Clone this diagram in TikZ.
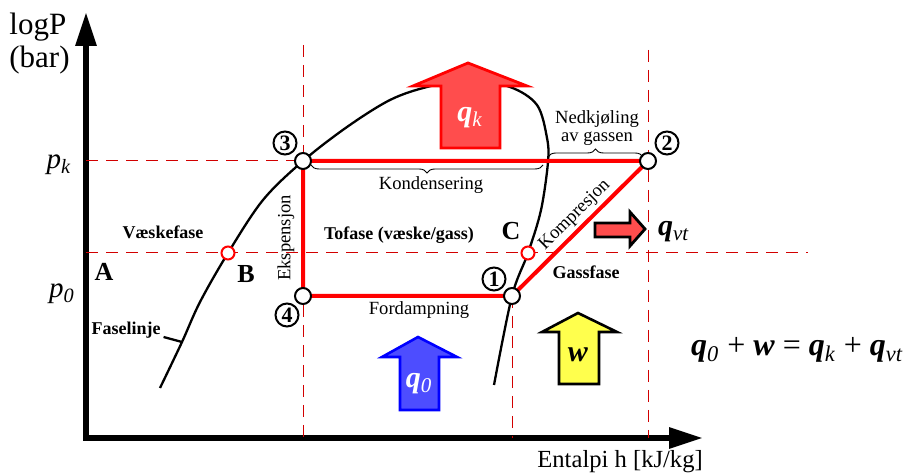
\documentclass[tikz,border=0pt]{standalone}
\usepackage{fontspec}
\setmainfont{Liberation Serif}
\usetikzlibrary{arrows.meta, positioning, decorations.pathreplacing}
\definecolor{heatred}{RGB}{255,77,77}
\definecolor{coldblue}{RGB}{77,77,255}
\definecolor{workyellow}{RGB}{255,255,77}
\definecolor{guidered}{RGB}{210,0,0}
\tikzstyle{statept} = [circle, draw=black, fill=white, line width=1pt, minimum size=8pt, inner sep=0pt]
\tikzstyle{phasept} = [circle, draw=red, fill=white, line width=1pt, minimum size=6.5pt, inner sep=0pt]
\tikzstyle{num} = [circle, draw=black, line width=1pt, minimum size=11.5pt, inner sep=0pt, font=\fontsize{11}{11}\selectfont\bfseries]
\tikzstyle{loopline} = [red, line width=2pt]
\tikzstyle{guide} = [guidered, line width=0.5pt, dash pattern=on 6pt off 4pt]
\tikzstyle{axisline} = [line width=3pt, -{Triangle[length=17pt, width=10pt]}]
\tikzstyle{dome} = [line width=1.15pt]
\tikzstyle{lbl} = [font=\fontsize{9.3}{8.6}\selectfont]
\tikzstyle{phase} = [font=\fontsize{9}{10}\selectfont\bfseries]
\tikzstyle{region} = [font=\fontsize{13}{14}\selectfont\bfseries]
\tikzstyle{sym} = [font=\fontsize{15}{16}\selectfont]
\tikzstyle{curly} = [decorate, decoration={brace, amplitude=4pt}, line width=0.45pt]
\tikzstyle{heat} = [fill=heatred, draw=red, line width=1.4pt]
\newcommand{\qq}[1]{{\bfseries\itshape q}\textsubscript{\itshape #1}}

\begin{document}
\begin{tikzpicture}[x=0.5pt, y=-0.5pt, line join=miter]
    \useasboundingbox (0,0) rectangle (903,474);

    % Axes
    \coordinate (o) at (86,438);
    \coordinate (ytip) at (86,12);
    \coordinate (xtip) at (703,438);
    \draw [axisline] (86,441) -- (ytip);
    \draw [axisline] (83,438) -- (xtip);
    \node (logp) [anchor=base west, inner sep=0pt, font=\fontsize{15.5}{17}\selectfont] at (9,35) {logP};
    \node (bar) [below=2pt of logp.south west, anchor=north west, inner sep=0pt, font=\fontsize{15.5}{17}\selectfont] {(bar)};
    \node (hlabel) [anchor=base west, inner sep=0pt, font=\fontsize{12.3}{13}\selectfont] at (537,468) {Entalpi h [kJ/kg]};
    \node (pk) [sym, anchor=base, font=\fontsize{14.5}{15}\selectfont] at (59,169) {\textit{p}\textsubscript{\textit{k}}};
    \node (p0) [sym, anchor=base, font=\fontsize{14.5}{15}\selectfont] at (62,298) {\textit{p}\textsubscript{\textit{0}}};

    % Cycle corners
    \coordinate (c1) at (512,296);
    \coordinate (c2) at (648,161);
    \coordinate (c3) at (303,161);
    \coordinate (c4) at (303,296);
    \coordinate (cb) at (228,253);
    \coordinate (cc) at (528,253);

    % Guide lines
    \draw [guide] (o |- c3) -- (c3);
    \draw [guide] (o |- cb) -- (808,253);
    \draw [guide] (303,45) -- (o -| c3);
    \draw [guide] (c1) -- (o -| c1);
    \draw [guide] (648,50) -- (o -| c2);

    % Saturation curve
    \draw [dome] plot [smooth, tension=0.55] coordinates {(160,388) (182,342) (200,302) (228,253) (263,200) (303,161) (347,127) (390,100) (427,87) (468,80) (510,87) (537,105) (547,138) (548,162) (541,210) (528,253) (512,296) (494,385)};

    % Cycle
    \draw [loopline] (c3) -- (c2) -- (c1) -- (c4) -- cycle;
    \path (c1) -- (c2) node [lbl, pos=0.53, sloped, above=-1pt] {Kompresjon};

    % State points
    \node (s1) [statept] at (c1) {};
    \node (s2) [statept] at (c2) {};
    \node (s3) [statept] at (c3) {};
    \node (s4) [statept] at (c4) {};
    \node (pb) [phasept] at (cb) {};
    \node (pc) [phasept] at (cc) {};
    \node (n1) [num] at (494,279) {1};
    \node (n2) [num] at (667,143) {2};
    \node (n3) [num] at (285,143) {3};
    \node (n4) [num] at (287,315) {4};

    % Braces and process labels
    \draw [curly] (543,165) -- (311,165);
    \draw [curly] (548,157) -- (643,157);
    \node (kond) [lbl] at (431,185) {Kondensering};
    \node (nedk) [lbl, align=center] at (597,128) {Nedkjøling\\av gassen};
    \node (ekspen) [lbl, rotate=90] at (286,238) {Ekspensjon};
    \node (fordamp) [lbl] at (419,310) {Fordampning};

    % Phase regions
    \node (vaeske) [phase] at (163,232) {Væskefase};
    \node (tofase) [phase] at (399,235) {Tofase (væske/gass)};
    \node (gass) [phase] at (586,272) {Gassfase};
    \node (fase) [phase] at (126,330) {Faselinje};
    \coordinate (fl) at (182,342);
    \draw [dome] ([xshift=-2pt, yshift=-3.5pt]fase.east) -- (fl);
    \node (la) [region] at (104,272) {A};
    \node (lb) [region] at (246,274) {B};
    \node (lc) [region] at (511,231) {C};

    % Heat and work arrows
    \draw [heat] (441,148) -- (441,86) -- (413,86) -- (468,63) -- (527,86) -- (500,86) -- (500,148) -- cycle;
    \node (qk) [sym, text=white] at (470,118) {\qq{k}};
    \draw [fill=coldblue, draw=blue, line width=1.3pt] (400,410) -- (400,357) -- (382,357) -- (418,337) -- (457,357) -- (439,357) -- (439,410) -- cycle;
    \node (q0) [sym, text=white] at (419,384) {\qq{0}};
    \draw [fill=workyellow, draw=black, line width=1.3pt] (559,384) -- (559,332) -- (542,332) -- (578,313) -- (617,332) -- (599,332) -- (599,384) -- cycle;
    \node (w) [sym] at (578,355) {\textbf{\textit{w}}};
    \draw [fill=heatred, draw=black, line width=1.4pt] (595,223) -- (630,223) -- (630,212) -- (645,229) -- (630,246) -- (630,237) -- (595,237) -- cycle;
    \node (qvt) [sym, anchor=base west] at (651,236) {\qq{vt}};

    % Energy balance
    \node (balance) [anchor=base west, font=\fontsize{16}{17}\selectfont] at (684,356) {\qq{0} + \textbf{\textit{w}} = \qq{k} + \qq{vt}};

\end{tikzpicture}
\end{document}
